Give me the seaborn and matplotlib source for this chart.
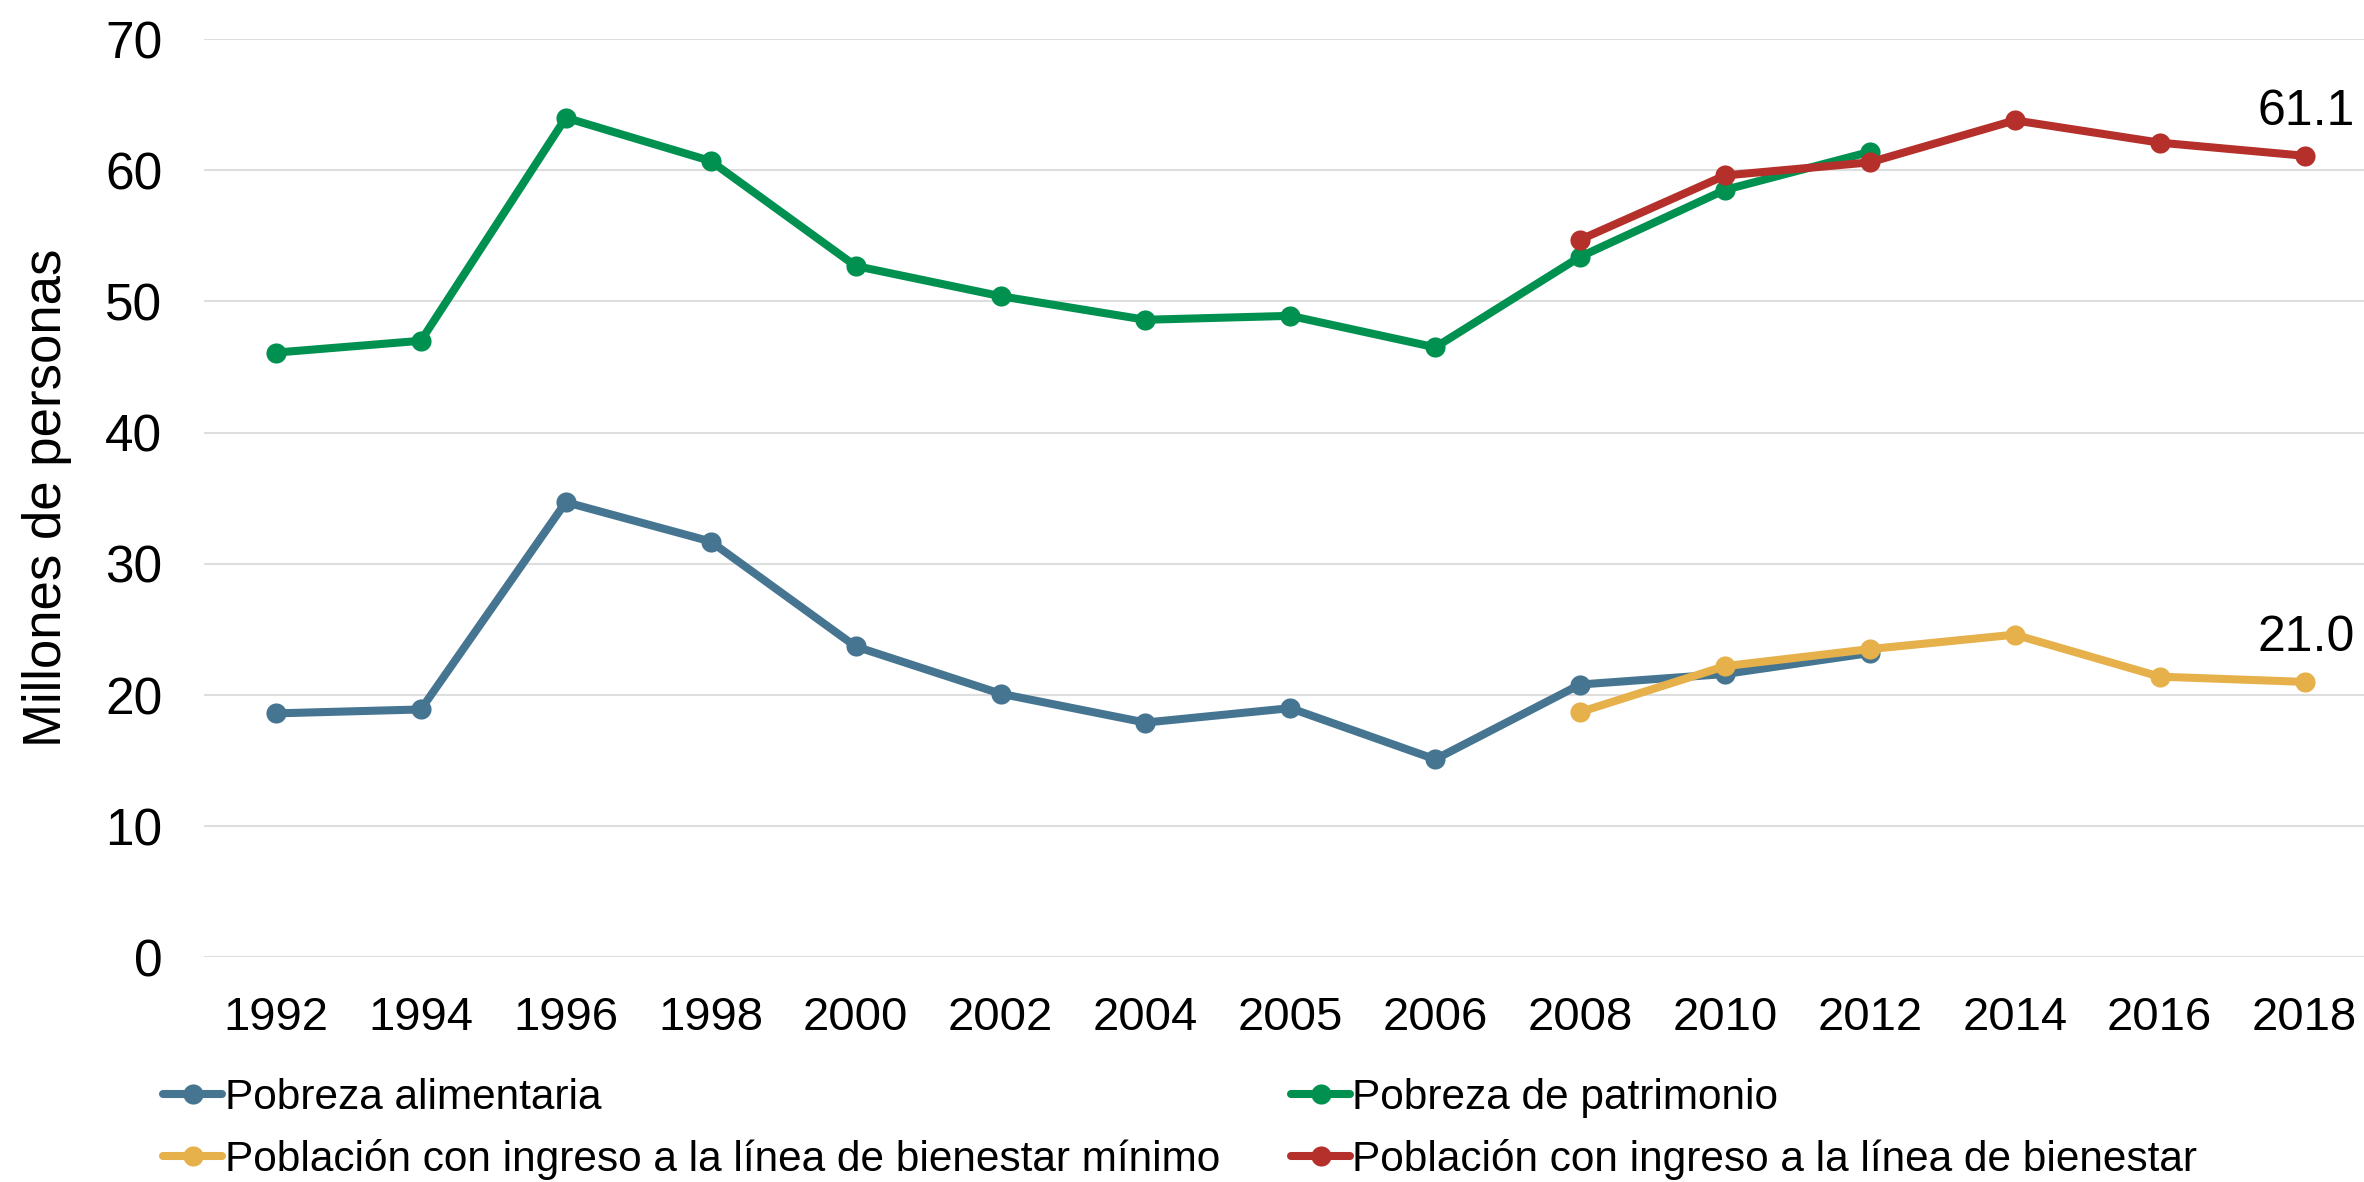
import numpy as np
import pandas as pd
import seaborn as sns
import matplotlib.pyplot as plt

years = ['1992', '1994', '1996', '1998', '2000', '2002', '2004', '2005',
         '2006', '2008', '2010', '2012', '2014', '2016', '2018']
nan = np.nan

alimentaria = [18.6, 18.9, 34.7, 31.7, 23.7, 20.1, 17.9, 19.0, 15.1, 20.8, 21.6, 23.2, nan, nan, nan]
patrimonio = [46.1, 47.0, 64.0, 60.7, 52.7, 50.4, 48.6, 48.9, 46.5, 53.4, 58.5, 61.4, nan, nan, nan]
bienestar_min = [nan, nan, nan, nan, nan, nan, nan, nan, nan, 18.7, 22.2, 23.5, 24.6, 21.4, 21.0]
bienestar = [nan, nan, nan, nan, nan, nan, nan, nan, nan, 54.7, 59.6, 60.6, 63.8, 62.1, 61.1]

labels = ['Pobreza alimentaria', 'Pobreza de patrimonio',
          'Población con ingreso a la línea de bienestar mínimo',
          'Población con ingreso a la línea de bienestar']
colors = ['#467591', '#009150', '#e6b04b', '#b5302a']

sns.set_theme(style='white')
plt.rcParams['font.family'] = ['Liberation Sans', 'DejaVu Sans']
plt.rcParams['text.color'] = 'black'

fig = plt.figure(figsize=(23.64, 11.82), dpi=100)
ax = fig.add_axes([0.0863, 0.19, 0.9137, 0.777])

pos = np.arange(len(years))
handles = []
for vals, lab, col in zip([alimentaria, patrimonio, bienestar_min, bienestar], labels, colors):
    df = pd.DataFrame({'x': pos, 'y': vals}).dropna()
    sns.lineplot(data=df, x='x', y='y', ax=ax, color=col, linewidth=5.8,
                 marker='o', markersize=14.5, markeredgewidth=0, label=lab)
    handles.append(ax.lines[-1])

# end-of-series labels
for v in [bienestar[-1], bienestar_min[-1]]:
    ax.annotate(f'{v:.1f}', xy=(14, v), xytext=(1, 22), textcoords='offset points',
                ha='center', va='baseline', fontsize=36, color='black')

ax.set_xlim(-0.497, 14.41)
ax.set_ylim(0, 70)
ax.set_yticks(range(0, 71, 10))
ax.set_xticks(pos)
ax.set_xticklabels(years)
ax.tick_params(axis='y', labelsize=37, length=0, pad=30, labelcolor='black')
ax.tick_params(axis='x', labelsize=34, length=0, pad=28, labelcolor='black')
ax.set_xlabel('')
ax.set_ylabel('Millones de personas', fontsize=38, labelpad=24, color='black')
ax.yaxis.grid(True, color='#dedede', linewidth=1.5)
for s in ax.spines.values():
    s.set_visible(False)

order = [0, 2, 1, 3]
ax.legend([handles[i] for i in order], [labels[i] for i in order],
          loc='upper left', bbox_to_anchor=(0.069, 0.088), bbox_transform=fig.transFigure,
          ncol=2, frameon=False, fontsize=30.5, handlelength=1.4, handletextpad=0.05,
          columnspacing=1.68, labelspacing=0.5, borderaxespad=0, borderpad=0)

fig.savefig('out.png', dpi=100)
